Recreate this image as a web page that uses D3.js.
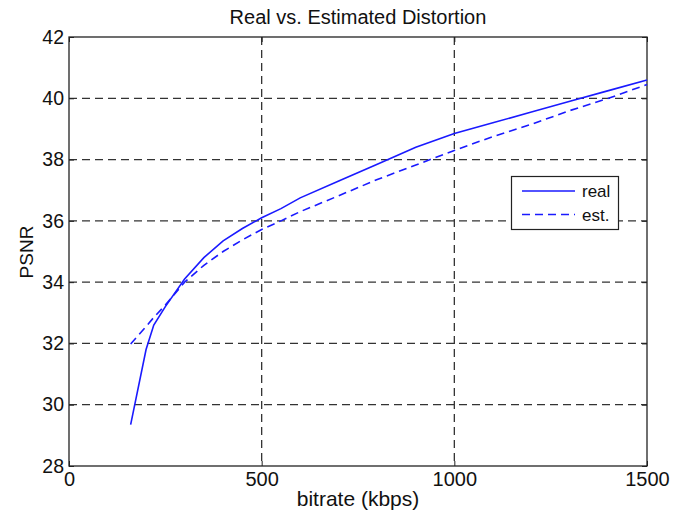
<!DOCTYPE html>
<html><head><meta charset="utf-8">
<script src="https://cdn.jsdelivr.net/npm/d3@7/dist/d3.min.js"></script>
<style>body{margin:0;background:#fff}svg{display:block}text{font-family:"Liberation Sans",Arial,sans-serif}</style>
</head><body><svg id="c" width="694" height="514"></svg>
<script>
const bitrate = [160,200,220,250,300,350,400,450,500,550,600,700,800,900,1000,1100,1200,1300,1400,1500];
const realPSNR = [29.35,31.8,32.6,33.2,34.1,34.8,35.35,35.75,36.1,36.4,36.75,37.3,37.85,38.4,38.85,39.2,39.55,39.9,40.25,40.6];
const estPSNR = [31.98,32.55,32.85,33.25,34.0,34.55,35.0,35.38,35.72,36.0,36.3,36.82,37.35,37.82,38.3,38.75,39.15,39.6,40.0,40.45];
const xTicks = [0,500,1000,1500];
const yTicks = [28,30,32,34,36,38,40,42];
const seriesNames = ["real","est."];

const svg = d3.select("#c");
const L=69,R=647,T=37,B=466;
const x = d3.scaleLinear().domain([0,1500]).range([L,R]);
const y = d3.scaleLinear().domain([28,42]).range([B,T]);
const gc="#333";

// grid
svg.append("g").selectAll("line").data(xTicks.slice(1,-1)).join("line")
  .attr("x1",d=>x(d)).attr("x2",d=>x(d)).attr("y1",T).attr("y2",B)
  .attr("stroke",gc).attr("stroke-width",1.3).attr("stroke-dasharray","8,5");
svg.append("g").selectAll("line").data(yTicks.slice(1,-1)).join("line")
  .attr("y1",d=>y(d)).attr("y2",d=>y(d)).attr("x1",L).attr("x2",R)
  .attr("stroke",gc).attr("stroke-width",1.3).attr("stroke-dasharray","8,5");

// axes
const xa = svg.append("g").attr("transform",`translate(0,${B})`)
  .call(d3.axisBottom(x).tickValues(xTicks).tickFormat(d3.format("d")).tickSizeInner(-5).tickSizeOuter(0).tickPadding(6));
const ya = svg.append("g").attr("transform",`translate(${L},0)`)
  .call(d3.axisLeft(y).tickValues(yTicks).tickFormat(d3.format("d")).tickSizeInner(-5).tickSizeOuter(0).tickPadding(5));
svg.append("g").attr("transform",`translate(0,${T})`)
  .call(d3.axisTop(x).tickValues(xTicks).tickSizeInner(-5).tickSizeOuter(0).tickFormat(""));
svg.append("g").attr("transform",`translate(${R},0)`)
  .call(d3.axisRight(y).tickValues(yTicks).tickSizeInner(-5).tickSizeOuter(0).tickFormat(""));
svg.selectAll(".domain").remove();
svg.selectAll(".tick line").attr("stroke","#222");
xa.selectAll("text").attr("font-size",20);
ya.selectAll("text").attr("font-size",19.5);
[xa,ya].forEach(a=>a.selectAll("text").attr("fill","#111").style("font-family","'Liberation Sans',Arial,sans-serif"));
svg.append("rect").attr("x",L).attr("y",T).attr("width",R-L).attr("height",B-T)
  .attr("fill","none").attr("stroke","#222").attr("stroke-width",1.3);

// lines
const line = d3.line().x((d,i)=>x(bitrate[i])).y(d=>y(d));
svg.append("path").datum(realPSNR).attr("d",line).attr("fill","none").attr("stroke","#1a1aff").attr("stroke-width",1.6);
svg.append("path").datum(estPSNR).attr("d",line).attr("fill","none").attr("stroke","#1a1aff").attr("stroke-width",1.6).attr("stroke-dasharray","8,5");

// legend
const lg = svg.append("g");
lg.append("rect").attr("x",511.5).attr("y",176.5).attr("width",107).attr("height",53).attr("fill","#fff").attr("stroke","#222").attr("stroke-width",1.2);
[0,1].forEach(i=>{
  const yy = 191 + i*23.5;
  lg.append("line").attr("x1",522).attr("x2",575).attr("y1",yy).attr("y2",yy)
    .attr("stroke","#1a1aff").attr("stroke-width",1.6).attr("stroke-dasharray",i?"8,5":null);
  lg.append("text").attr("x",582).attr("y",yy+6).attr("font-size",17).attr("fill","#111").text(seriesNames[i]);
});

// titles
svg.append("text").attr("x",358).attr("y",24).attr("text-anchor","middle").attr("font-size",20).attr("fill","#111").text("Real vs. Estimated Distortion");
svg.append("text").attr("x",358).attr("y",506).attr("text-anchor","middle").attr("font-size",21).attr("fill","#111").text("bitrate (kbps)");
svg.append("text").attr("transform","translate(33,252) rotate(-90)").attr("text-anchor","middle").attr("font-size",19).attr("fill","#111").text("PSNR");
</script></body></html>
